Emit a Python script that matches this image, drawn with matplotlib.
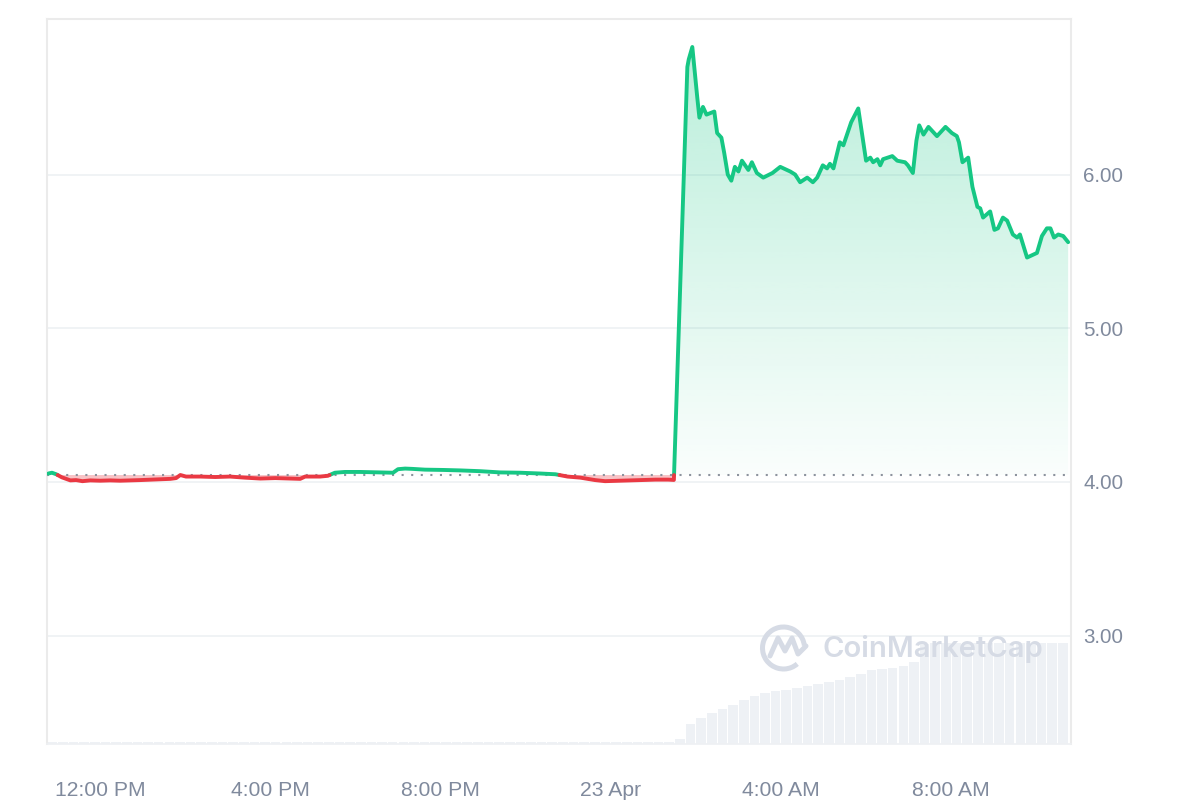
import numpy as np
import matplotlib
matplotlib.use("Agg")
import matplotlib.pyplot as plt
from matplotlib.path import Path
from matplotlib.patches import Arc
from matplotlib.lines import Line2D

# ---------------- data ----------------
# minutes relative to 12:00 PM on 22 Apr
price_minutes = [
    -73, -68, -62, -54, -42, -34, -25, -14, 0, 14, 28, 42, 56, 71, 85, 99, 107, 113,
    121, 141, 162, 183, 204, 226, 247, 268, 282, 289, 310, 321, 331, 345, 367, 388,
    413, 420, 430, 440, 458, 484, 508, 536, 564, 592, 620, 642, 659, 677, 698, 712,
    733, 761, 783, 801, 809,
    828, 830, 835, 842, 845, 850, 855, 866, 870, 876, 880, 885, 890, 895, 900, 905,
    914, 919, 926, 935, 948, 959, 973, 980, 987, 997, 1005, 1011, 1019, 1025, 1029,
    1034, 1043, 1048, 1059, 1069, 1080, 1086, 1090, 1096, 1100, 1104, 1117, 1124,
    1135, 1139, 1146, 1151, 1155, 1161, 1168, 1180, 1192, 1201, 1208, 1211, 1216,
    1224, 1230, 1237, 1241, 1245, 1255, 1261, 1266, 1273, 1279, 1287, 1293, 1297,
    1307, 1321, 1328, 1335, 1340, 1345, 1351, 1358, 1365,
]
price_values = [
    4.055, 4.060, 4.050, 4.030, 4.010, 4.012, 4.005, 4.010, 4.008, 4.010, 4.008, 4.010,
    4.012, 4.015, 4.018, 4.020, 4.025, 4.045, 4.035, 4.035, 4.032, 4.035, 4.028, 4.022,
    4.025, 4.022, 4.020, 4.035, 4.035, 4.040, 4.060, 4.065, 4.065, 4.063, 4.060, 4.083,
    4.087, 4.085, 4.080, 4.078, 4.075, 4.070, 4.062, 4.060, 4.055, 4.050, 4.035, 4.028,
    4.012, 4.005, 4.008, 4.012, 4.015, 4.015, 4.013,
    6.70, 6.75, 6.83, 6.50, 6.37, 6.44, 6.39, 6.41, 6.27, 6.24, 6.14, 6.00, 5.96, 6.05,
    6.02, 6.09, 6.03, 6.08, 6.01, 5.98, 6.01, 6.05, 6.02, 6.00, 5.95, 5.98, 5.95, 5.98,
    6.06, 6.04, 6.07, 6.04, 6.21, 6.19, 6.34, 6.43, 6.09, 6.11, 6.08, 6.10, 6.06, 6.10,
    6.12, 6.09, 6.08, 6.06, 6.01, 6.22, 6.32, 6.26, 6.31, 6.25, 6.31, 6.27, 6.25, 6.21,
    6.08, 6.11, 5.92, 5.79, 5.78, 5.72, 5.76, 5.64, 5.65, 5.72, 5.70, 5.61, 5.59, 5.61,
    5.46, 5.49, 5.60, 5.65, 5.65, 5.59, 5.61, 5.60, 5.56,
]
baseline_price = 4.045

# 15-minute volume bars (arbitrary units)
volume_start_minute = -67.5
volume_step_minutes = 15
volume_values = [
    0.2, 0.2, 0.2, 0.2, 0.2, 0.2, 0.2, 0.2, 0.2, 0.2, 0.2, 0.2, 0.2, 0.2, 0.2, 0.2,
    0.2, 0.2, 0.2, 0.2, 0.2, 0.2, 0.2, 0.2, 0.2, 0.2, 0.2, 0.2, 0.2, 0.2, 0.2, 0.2,
    0.2, 0.2, 0.2, 0.2, 0.2, 0.2, 0.2, 0.2, 0.2, 0.2, 0.2, 0.2, 0.2, 0.2, 0.2, 0.2,
    0.2, 0.2, 0.2, 0.2, 0.2, 0.2, 0.2, 0.2, 0.2, 0.2, 0.2,
    0.5, 2.0, 2.6, 3.1, 3.5, 3.9, 4.4, 4.8, 5.1, 5.3, 5.4, 5.6, 5.8, 6.0, 6.2, 6.4,
    6.7, 7.0, 7.4, 7.5, 7.6, 7.8, 8.2, 10.0,
    10.1, 10.1, 10.1, 10.1, 10.1, 10.1, 10.1, 10.1, 10.1, 10.1, 10.1, 10.1, 10.1,
]

x_tick_minutes = [0, 240, 480, 720, 960, 1200]
x_tick_labels = ["12:00 PM", "4:00 PM", "8:00 PM", "23 Apr", "4:00 AM", "8:00 AM"]
y_ticks = [3, 4, 5, 6]
y_tick_labels = ["3.00", "4.00", "5.00", "6.00"]

# ---------------- style ----------------
GREEN = "#16c784"
RED = "#ea3943"
TICK_COLOR = "#808a9d"
GRID_COLOR = "#eff2f5"
FRAME_COLOR = "#ebebeb"
WM_COLOR = "#d6dbe5"
XLIM = (-75, 1369)
YLIM = (2.295, 7.012)

plt.rcParams["font.family"] = ["Liberation Sans", "DejaVu Sans"]

fig = plt.figure(figsize=(12, 8), dpi=100)
rect = [47 / 1200, 56 / 800, 1024 / 1200, 725 / 800]

# volume axes (behind)
ax_vol = fig.add_axes(rect)
vol_x = volume_start_minute + volume_step_minutes * np.arange(len(volume_values))
ax_vol.bar(vol_x, volume_values, width=13.5, color="#eef1f5", linewidth=0)
ax_vol.set_xlim(*XLIM)
ax_vol.set_ylim(0, 72.5)
ax_vol.axis("off")

# price axes
ax = fig.add_axes(rect)
ax.patch.set_visible(False)
ax.set_xlim(*XLIM)
ax.set_ylim(*YLIM)

t = np.array(price_minutes, float)
p = np.array(price_values, float)
base = baseline_price
ta, pa = [t[0]], [p[0]]
for i in range(1, len(t)):
    d0, d1 = p[i - 1] - base, p[i] - base
    if d0 * d1 < 0:
        f = d0 / (d0 - d1)
        ta.append(t[i - 1] + f * (t[i] - t[i - 1]))
        pa.append(base)
    ta.append(t[i])
    pa.append(p[i])
ta, pa = np.array(ta), np.array(pa)

# red fill
ax.fill_between(ta, pa, base, where=pa <= base, color=RED, alpha=0.3,
                linewidth=0, interpolate=True, zorder=2)
# green gradient fill
gpoly = ax.fill_between(ta, pa, base, where=pa >= base, facecolor="none",
                        linewidth=0, interpolate=True)
paths = gpoly.get_paths()
clip = Path.make_compound_path(*paths)
n = 256
grad = np.zeros((n, 1, 4))
rgb = matplotlib.colors.to_rgb(GREEN)
grad[:, 0, 0:3] = rgb
grad[:, 0, 3] = np.linspace(0.02, 0.30, n)
im = ax.imshow(grad, extent=[XLIM[0], XLIM[1], base, 6.85], origin="lower",
               aspect="auto", zorder=2, interpolation="bilinear")
im.set_clip_path(clip, transform=ax.transData)
ax.set_xlim(*XLIM)
ax.set_ylim(*YLIM)

# baseline dotted
ax.axhline(base, color="#8d939e", linewidth=1.5, linestyle=(0, (1, 3.6)), zorder=3)

# price lines
up = np.where(pa >= base, pa, np.nan)
dn = np.where(pa <= base, pa, np.nan)
ax.plot(ta, up, color=GREEN, linewidth=2.8, solid_joinstyle="round",
        solid_capstyle="round", zorder=4)
ax.plot(ta, dn, color=RED, linewidth=2.8, solid_joinstyle="round",
        solid_capstyle="round", zorder=4)

# axes styling
ax.set_xticks(x_tick_minutes)
ax.set_xticklabels(x_tick_labels)
ax.set_yticks(y_ticks)
ax.set_yticklabels(y_tick_labels)
ax.yaxis.tick_right()
ax.tick_params(axis="y", length=0, pad=9, labelsize=14.8, labelcolor=TICK_COLOR)
ax.tick_params(axis="x", length=0, pad=27, labelsize=15.2, labelcolor=TICK_COLOR)
ax.grid(axis="y", color=GRID_COLOR, linewidth=1.3)
ax.grid(axis="x", visible=False)
ax.set_axisbelow(True)
for side in ["left", "top", "right"]:
    ax.spines[side].set_color(FRAME_COLOR)
    ax.spines[side].set_linewidth(1.5)
ax.spines["bottom"].set_color("#eef0f3")
ax.spines["bottom"].set_linewidth(1.2)

# watermark
def fx(x):
    return x / 1200

def fy(y):
    return 1 - y / 800

arc = Arc((fx(783.5), fy(648)), width=42 / 1200, height=42 / 800, theta1=10,
          theta2=300, transform=fig.transFigure, color=WM_COLOR, linewidth=3.6)
fig.add_artist(arc)
mx = [770, 778, 785, 792, 798, 806]
my = [656, 638, 651, 638, 654, 646]
fig.add_artist(Line2D([fx(v) for v in mx], [fy(v) for v in my],
                      transform=fig.transFigure, color=WM_COLOR, linewidth=3.6,
                      solid_capstyle="round", solid_joinstyle="round"))
fig.text(fx(823), fy(649), "CoinMarketCap", ha="left", va="center", fontsize=21,
         color=WM_COLOR, family=["Inter", "DejaVu Sans"], fontweight="semibold")

fig.savefig("out.png", dpi=100, facecolor="white")
